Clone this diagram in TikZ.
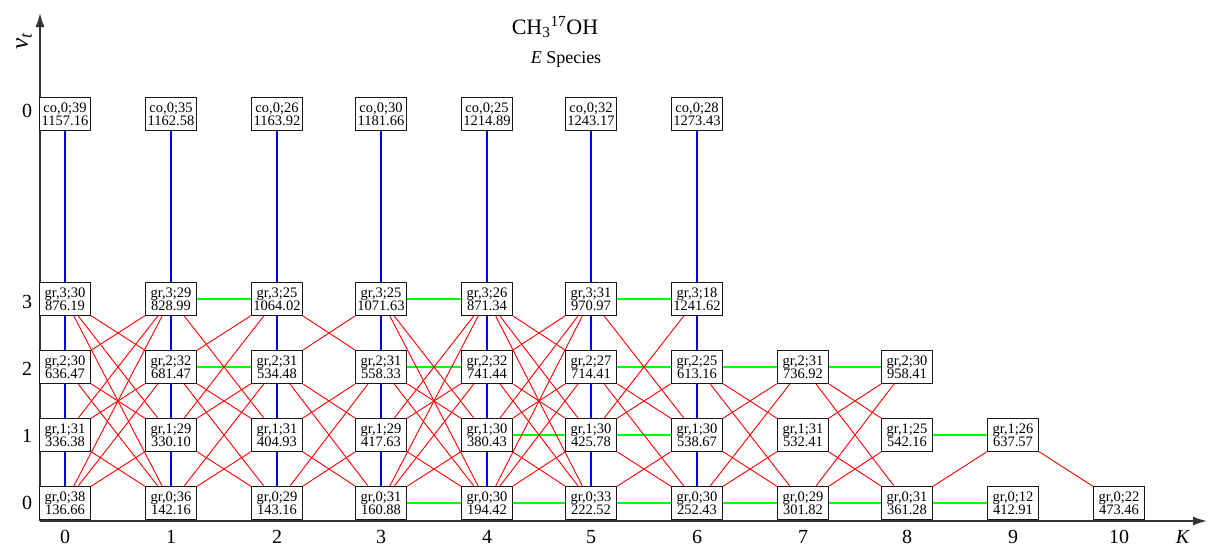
\documentclass[tikz,border=0pt]{standalone}
\usepackage{fontspec}
\setmainfont{Liberation Serif}
\usetikzlibrary{arrows.meta}
\pgfdeclarelayer{bg}
\pgfsetlayers{bg,main}
\def\xs{{65,171,277,381,487,591,697,803,907,1013,1119}}
\begin{document}
\begin{tikzpicture}[x=1pt,y=-1pt,
  lvl/.style={draw=black!90,line width=1.3pt,fill=white,inner sep=1pt,align=center,
    font=\fontsize{14.5}{13}\selectfont,minimum width=51pt,minimum height=33pt},
  axlab/.style={font=\fontsize{20}{20}\selectfont,inner sep=0pt},
  axis/.style={draw=black!80,line width=1.6pt,-{Latex[length=14pt,width=9pt]}},
  redl/.style={draw=red,line width=0.9pt},
  grnl/.style={draw={rgb,255:red,0;green,255;blue,0},line width=1.1pt},
  blul/.style={draw={rgb,255:red,0;green,0;blue,255},line width=1.1pt}]
\useasboundingbox (0,0) rectangle (1208,546);
% axes
\coordinate (o) at (40,521);
\coordinate (ytop) at (40,13);
\coordinate (xend) at (1207,521);
\draw[axis] (o) -- (ytop);
\draw[axis] (o) -- (xend);
\node[font=\fontsize{25}{25}\selectfont,rotate=90,inner sep=0pt] (vt) at (24,41) {\textit{v}\textsubscript{\textit{t}}};
\node[axlab] (kl) at (1183,537) {\textit{K}};
\foreach \k in {0,...,10}{
  \pgfmathsetmacro\xx{\xs[\k]}
  \node[axlab] (kx\k) at (\xx,537) {\k};}
\node[axlab] (vy0) at (27,503) {0};
\node[axlab] (vy1) at (27,436) {1};
\node[axlab] (vy2) at (27,369) {2};
\node[axlab] (vy3) at (27,302) {3};
\node[axlab] (vyc) at (27,111) {0};
% title
\node[font=\fontsize{22}{22}\selectfont] (title) at (555,27) {CH\textsubscript{3}\textsuperscript{17}OH};
\node[font=\fontsize{18}{18}\selectfont] (spec) at (566,59) {\textit{E} Species};
% co nodes
\foreach \k/\j/\e in {0/39/1157.16,1/35/1162.58,2/26/1163.92,3/30/1181.66,4/25/1214.89,5/32/1243.17,6/28/1273.43}{
  \pgfmathsetmacro\xx{\xs[\k]}
  \node[lvl] (c\k) at (\xx,114) {co,0;\j\\\e};}
% ground nodes
\foreach \k/\v/\j/\e in {
  0/3/30/876.19,0/2/30/636.47,0/1/31/336.38,0/0/38/136.66,
  1/3/29/828.99,1/2/32/681.47,1/1/29/330.10,1/0/36/142.16,
  2/3/25/1064.02,2/2/31/534.48,2/1/31/404.93,2/0/29/143.16,
  3/3/25/1071.63,3/2/31/558.33,3/1/29/417.63,3/0/31/160.88,
  4/3/26/871.34,4/2/32/741.44,4/1/30/380.43,4/0/30/194.42,
  5/3/31/970.97,5/2/27/714.41,5/1/30/425.78,5/0/33/222.52,
  6/3/18/1241.62,6/2/25/613.16,6/1/30/538.67,6/0/30/252.43,
  7/2/31/736.92,7/1/31/532.41,7/0/29/301.82,
  8/2/30/958.41,8/1/25/542.16,8/0/31/361.28,
  9/1/26/637.57,9/0/12/412.91,
  10/0/22/473.46}{
  \pgfmathsetmacro\xx{\xs[\k]}
  \node[lvl] (g\k-\v) at (\xx,{503-68*\v}) {gr,\v;\j\\\e};}
\begin{pgfonlayer}{bg}
\foreach \k in {0,...,6}
  \draw[blul] (c\k) -- (g\k-0);
\foreach \a/\b in {1-3/2-3,1-2/2-2,3-3/4-3,3-2/4-2,3-0/4-0,4-1/5-1,4-0/5-0,
  5-3/6-3,5-2/6-2,5-1/6-1,5-0/6-0,6-2/7-2,6-0/7-0,7-2/8-2,7-0/8-0,8-1/9-1,8-0/9-0}
  \draw[grnl] (g\a) -- (g\b);
\foreach \a/\b in {
  0-3/1-2,0-3/1-1,0-3/1-0,0-2/1-3,0-2/1-1,0-2/1-0,0-1/1-3,0-1/1-2,0-1/1-0,0-0/1-3,0-0/1-2,0-0/1-1,
  1-3/2-1,2-3/1-2,2-3/1-1,1-2/2-1,1-2/2-0,2-2/1-1,2-2/1-0,2-1/1-0,1-1/2-0,
  2-3/3-2,3-3/2-2,2-2/3-0,2-2/3-1,3-2/2-1,3-2/2-0,2-1/3-0,3-1/2-0,
  3-3/4-1,3-3/4-0,3-2/4-1,3-2/4-0,3-1/4-2,3-1/4-3,3-1/4-0,3-0/4-3,3-0/4-2,3-0/4-1,
  4-3/5-2,4-3/5-1,4-3/5-0,4-2/5-3,4-2/5-1,4-2/5-0,4-1/5-3,4-1/5-2,4-1/5-0,4-0/5-3,4-0/5-2,4-0/5-1,
  5-3/6-1,6-3/5-1,5-2/6-1,5-2/6-0,6-2/5-1,5-1/6-0,6-1/5-0,
  6-2/7-1,6-2/7-0,6-1/7-2,6-1/7-0,6-0/7-2,6-0/7-1,
  7-2/8-1,7-2/8-0,7-1/8-2,7-1/8-0,7-0/8-2,7-0/8-1,
  8-0/9-1,9-1/10-0}
  \draw[redl] (g\a) -- (g\b);
\end{pgfonlayer}
\end{tikzpicture}
\end{document}
